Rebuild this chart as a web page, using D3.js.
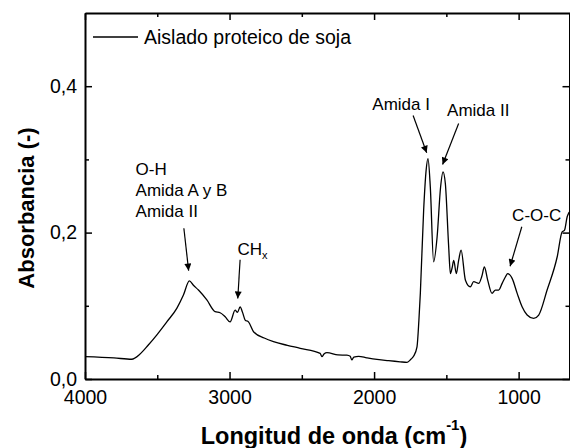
<!DOCTYPE html>
<html>
<head>
<meta charset="utf-8">
<script src="https://cdn.jsdelivr.net/npm/d3@7"></script>
<style>
  body { margin: 0; background: #fff; }
  svg { display: block; font-family: Arial, "Liberation Sans", sans-serif; }
</style>
</head>
<body>
<svg width="570" height="448"></svg>
<script>
"use strict";

// espectro FTIR leído a ojo de la figura
const waveNumber = [4000, 3800, 3677, 3619, 3562, 3504, 3434, 3365, 3319, 3278, 3250, 3215, 3157, 3100, 3065,
  3030, 2996, 2961, 2945, 2927, 2910, 2892, 2869, 2834, 2760, 2696, 2600, 2511, 2373, 2361, 2345, 2326,
  2250, 2188, 2165, 2154, 2140, 2107, 2050, 1980, 1900, 1820, 1772, 1745, 1727, 1703, 1690, 1680, 1657,
  1640, 1627, 1611, 1588, 1564, 1540, 1523, 1507, 1484, 1472, 1460, 1449, 1431, 1415, 1398, 1368, 1334,
  1311, 1276, 1255, 1237, 1214, 1184, 1161, 1138, 1114, 1090, 1076, 1045, 1010, 976, 941, 896, 861, 803,
  733, 699, 683, 664, 650];
const absorbance = [0.0305, 0.0288, 0.0270, 0.0341, 0.0464, 0.060, 0.078, 0.0965, 0.1147, 0.134, 0.128,
  0.1215, 0.108, 0.092, 0.0905, 0.085, 0.078, 0.094, 0.091, 0.0985, 0.091, 0.0805, 0.078, 0.0646, 0.056,
  0.051, 0.046, 0.0419, 0.035, 0.0305, 0.0345, 0.036, 0.033, 0.0325, 0.031, 0.026, 0.030, 0.031, 0.029,
  0.0268, 0.025, 0.0235, 0.0228, 0.027, 0.031, 0.044, 0.08, 0.117, 0.231, 0.285, 0.301, 0.2625, 0.160,
  0.194, 0.262, 0.283, 0.267, 0.181, 0.144, 0.152, 0.162, 0.144, 0.162, 0.176, 0.135, 0.126, 0.133,
  0.1306, 0.140, 0.153, 0.135, 0.117, 0.1215, 0.1215, 0.1306, 0.140, 0.144, 0.1375, 0.117, 0.0987, 0.0874,
  0.0828, 0.0874, 0.1215, 0.167, 0.201, 0.203, 0.2216, 0.228];

const xMajor = [4000, 3000, 2000, 1000];
const xMinor = [3500, 2500, 1500];
const yMajor = [0.0, 0.2, 0.4];
const yMinor = [0.1, 0.3];

const seriesName = "Aislado proteico de soja";

// anotaciones: texto, posición del texto (en datos) y flecha (de / a, en datos)
const notes = [
  { lines: ["O-H", "Amida A y B", "Amida II"], at: [3650, 0.279], from: [3316, 0.206], to: [3283, 0.148] },
  { lines: ["CH"], sub: "x", at: [2945, 0.169], from: [2927, 0.163], to: [2943, 0.110] },
  { lines: ["Amida I"], at: [2012, 0.368], from: [1730, 0.360], to: [1636, 0.309] },
  { lines: ["Amida II"], at: [1495, 0.359], from: [1415, 0.349], to: [1526, 0.293] },
  { lines: ["C-O-C"], at: [1045, 0.216], from: [978, 0.208], to: [1059, 0.154] }
];

const data = waveNumber.map((w, i) => ({ w: w, a: absorbance[i] }));

const svg = d3.select("svg");
const mLeft = 85, mRight = 569.5, mTop = 13, mBottom = 379;

// eje x invertido: 4000 a la izquierda
const xScale = d3.scaleLinear().domain([4000, 648]).range([mLeft, mRight]);
const yScale = d3.scaleLinear().domain([0, 0.5]).range([mBottom, mTop]);

const comma = d3.formatLocale({ decimal: ",", thousands: ".", grouping: [3], currency: ["", ""] }).format(".1f");

function styleAxis(g, size) {
  g.select(".domain").attr("stroke", "#000").attr("stroke-width", 2);
  g.selectAll(".tick line").attr("stroke", "#000").attr("stroke-width", 1.5);
  g.selectAll("text").attr("font-size", size).attr("fill", "#000").style("font-family", "Arial, 'Liberation Sans', sans-serif");
}

// ejes inferior e izquierdo con etiquetas (ticks hacia dentro)
const xAxis = d3.axisBottom(xScale).tickValues(xMajor).tickFormat(d3.format("d")).tickSizeInner(-7).tickSizeOuter(0).tickPadding(11);
const yAxis = d3.axisLeft(yScale).tickValues(yMajor).tickFormat(comma).tickSizeInner(-7).tickSizeOuter(0).tickPadding(8);

svg.append("g").attr("transform", `translate(0,${mBottom})`).call(xAxis).call(g => styleAxis(g, 19.5));
svg.append("g").attr("transform", `translate(${mLeft},0)`).call(yAxis).call(g => styleAxis(g, 19.5));

// ticks menores
svg.append("g").attr("transform", `translate(0,${mBottom})`)
  .call(d3.axisBottom(xScale).tickValues(xMinor).tickFormat("").tickSizeInner(-4).tickSizeOuter(0))
  .call(g => { g.select(".domain").remove(); styleAxis(g, 0); });
svg.append("g").attr("transform", `translate(${mLeft},0)`)
  .call(d3.axisLeft(yScale).tickValues(yMinor).tickFormat("").tickSizeInner(-4).tickSizeOuter(0))
  .call(g => { g.select(".domain").remove(); styleAxis(g, 0); });

// ejes superior y derecho (marco)
svg.append("g").attr("transform", `translate(0,${mTop})`)
  .call(d3.axisTop(xScale).tickValues(xMajor).tickFormat("").tickSizeInner(-7).tickSizeOuter(0))
  .call(g => styleAxis(g, 0));
svg.append("g").attr("transform", `translate(0,${mTop})`)
  .call(d3.axisTop(xScale).tickValues(xMinor).tickFormat("").tickSizeInner(-4).tickSizeOuter(0))
  .call(g => { g.select(".domain").remove(); styleAxis(g, 0); });
svg.append("g").attr("transform", `translate(${mRight},0)`)
  .call(d3.axisRight(yScale).tickValues(yMajor).tickFormat("").tickSizeInner(-7).tickSizeOuter(0))
  .call(g => styleAxis(g, 0));
svg.append("g").attr("transform", `translate(${mRight},0)`)
  .call(d3.axisRight(yScale).tickValues(yMinor).tickFormat("").tickSizeInner(-4).tickSizeOuter(0))
  .call(g => { g.select(".domain").remove(); styleAxis(g, 0); });

// espectro
const line = d3.line().x(d => xScale(d.w)).y(d => yScale(d.a)).curve(d3.curveMonotoneX);
svg.append("path")
  .datum(data)
  .attr("d", line)
  .attr("fill", "none")
  .attr("stroke", "#000")
  .attr("stroke-width", 1.3)
  .attr("stroke-linejoin", "round");

// leyenda
svg.append("line").attr("x1", 93).attr("x2", 138).attr("y1", 37).attr("y2", 37)
  .attr("stroke", "#000").attr("stroke-width", 1.3);
svg.append("text").attr("x", 144).attr("y", 44).attr("font-size", 19.5).text(seriesName);

// flechas
svg.append("defs").append("marker")
  .attr("id", "head")
  .attr("viewBox", "0 0 10 10")
  .attr("refX", 10).attr("refY", 5)
  .attr("markerWidth", 9).attr("markerHeight", 7)
  .attr("markerUnits", "userSpaceOnUse")
  .attr("orient", "auto")
  .append("path").attr("d", "M0,0 L10,5 L0,10 Z").attr("fill", "#000");

const noteG = svg.append("g");
notes.forEach(n => {
  const t = noteG.append("text")
    .attr("x", xScale(n.at[0]))
    .attr("y", yScale(n.at[1]))
    .attr("font-size", 17);
  n.lines.forEach((s, i) => {
    t.append("tspan").attr("x", xScale(n.at[0])).attr("dy", i === 0 ? 0 : 21).text(s);
  });
  if (n.sub) {
    t.append("tspan").attr("font-size", 11).attr("dy", 4).text(n.sub);
  }
  noteG.append("line")
    .attr("x1", xScale(n.from[0])).attr("y1", yScale(n.from[1]))
    .attr("x2", xScale(n.to[0])).attr("y2", yScale(n.to[1]))
    .attr("stroke", "#000").attr("stroke-width", 1.2)
    .attr("marker-end", "url(#head)");
});

// títulos de ejes
svg.append("text")
  .attr("transform", `translate(34,208) rotate(-90)`)
  .attr("text-anchor", "middle")
  .attr("font-size", 22).attr("font-weight", "bold")
  .text("Absorbancia (-)");

const xt = svg.append("text")
  .attr("x", 334).attr("y", 444)
  .attr("text-anchor", "middle")
  .attr("font-size", 23.5).attr("font-weight", "bold");
xt.append("tspan").text("Longitud de onda (cm");
xt.append("tspan").attr("font-size", 15).attr("dy", -14).text("-1");
xt.append("tspan").attr("dy", 14).text(")");
</script>
</body>
</html>
